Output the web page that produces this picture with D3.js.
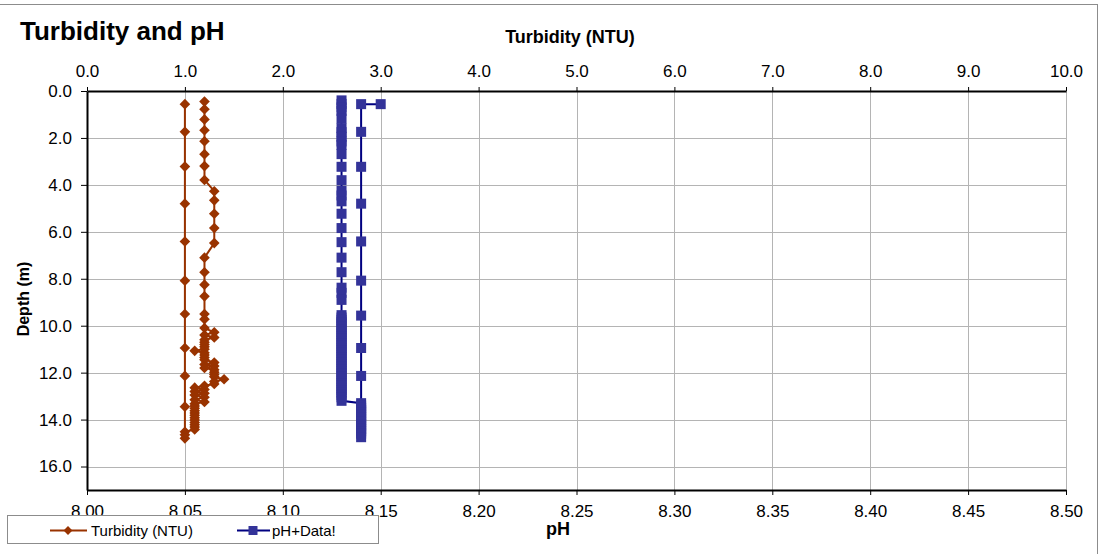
<!DOCTYPE html>
<html>
<head>
<meta charset="utf-8">
<script src="https://cdn.jsdelivr.net/npm/d3@7"></script>
<style>
  html, body { margin: 0; padding: 0; background: #fff; }
  svg { display: block; font-family: "Liberation Sans", Arial, sans-serif; }
</style>
</head>
<body>
<svg id="chart" width="1110" height="554"></svg>
<script>
// ---- Data ----
const turbTicks = [0,1,2,3,4,5,6,7,8,9,10];
const phTicks = [8.00,8.05,8.10,8.15,8.20,8.25,8.30,8.35,8.40,8.45,8.50];
const depthTicks = [0,2,4,6,8,10,12,14,16];

// Turbidity series (downcast then upcast), depth in m
const turbDepth = [0.45,0.78,1.21,1.67,2.14,2.69,3.2,3.79,4.27,4.66,5.23,5.84,6.48,7.1,7.72,8.25,8.75,9.5,9.72,10.1,
  10.28,10.4,10.5,10.6,10.7,10.8,10.9,11.0,11.07,11.15,11.25,11.35,11.45,11.57,11.65,11.72,11.8,11.88,11.98,12.08,
  12.18,12.28,12.38,12.48,12.56,12.64,12.72,12.8,12.88,12.95,13.05,13.15,13.25,13.32,13.42,13.52,13.62,13.72,13.82,13.92,
  14.02,14.12,14.22,14.32,14.42,14.52,14.65,14.8,
  13.45,12.14,10.95,9.5,8.08,6.41,4.8,3.22,1.74,0.56];
const turbValues = [1.2,1.2,1.2,1.2,1.2,1.2,1.2,1.2,1.3,1.3,1.3,1.3,1.3,1.2,1.2,1.2,1.2,1.2,1.2,1.2,
  1.3,1.2,1.3,1.2,1.2,1.2,1.2,1.2,1.1,1.2,1.2,1.2,1.2,1.3,1.2,1.3,1.2,1.3,1.3,1.3,
  1.3,1.4,1.3,1.3,1.2,1.1,1.2,1.1,1.2,1.1,1.2,1.1,1.2,1.1,1.1,1.1,1.1,1.1,1.1,1.1,
  1.1,1.1,1.1,1.1,1.1,1.0,1.0,1.0,
  1.0,1.0,1.0,1.0,1.0,1.0,1.0,1.0,1.0,1.0];

// pH series (downcast then upcast), depth in m
const phDepth = [0.4,0.55,0.7,0.85,1.17,1.58,1.75,1.95,2.15,2.3,2.69,3.23,3.8,4.25,4.45,4.7,5.23,5.84,6.44,7.1,
  7.72,8.38,8.6,8.9,9.55,9.65,9.75,9.85,9.95,10.05,10.15,10.25,10.35,10.45,10.55,10.65,10.75,10.85,10.95,11.05,
  11.15,11.25,11.35,11.45,11.55,11.65,11.75,11.85,11.95,12.05,12.15,12.25,12.35,12.45,12.55,12.65,12.75,12.85,12.95,13.05,
  13.2,
  13.3,13.4,13.5,13.6,13.7,13.8,13.9,14.0,14.1,14.2,14.3,14.4,14.5,14.6,14.75,
  12.14,10.95,9.57,8.08,6.41,4.8,3.23,1.74,0.56,0.56];
const phValues = [8.13,8.13,8.13,8.13,8.13,8.13,8.13,8.13,8.13,8.13,8.13,8.13,8.13,8.13,8.13,8.13,8.13,8.13,8.13,8.13,
  8.13,8.13,8.13,8.13,8.13,8.13,8.13,8.13,8.13,8.13,8.13,8.13,8.13,8.13,8.13,8.13,8.13,8.13,8.13,8.13,
  8.13,8.13,8.13,8.13,8.13,8.13,8.13,8.13,8.13,8.13,8.13,8.13,8.13,8.13,8.13,8.13,8.13,8.13,8.13,8.13,
  8.13,
  8.14,8.14,8.14,8.14,8.14,8.14,8.14,8.14,8.14,8.14,8.14,8.14,8.14,8.14,8.14,
  8.14,8.14,8.14,8.14,8.14,8.14,8.14,8.14,8.14,8.15];

const titleText = "Turbidity and pH";
const turbLabel = "Turbidity (NTU)";
const phLabel = "pH";
const depthLabel = "Depth (m)";
const seriesNames = ["Turbidity (NTU)", "pH+Data!"];

// ---- Layout ----
const L = 87, R = 1066, T = 91, B = 490;
const turbColor = "#993300", phLine = "#000080", phMarker = "#333399";
const gridColor = "#b4b4b4";
const font = "'Liberation Sans', Arial, sans-serif";

const svg = d3.select("#chart");

const xT = d3.scaleLinear().domain([0, 10]).range([L, R]);
const xP = d3.scaleLinear().domain([8.0, 8.5]).range([L, R]);
const y = d3.scaleLinear().domain([0, 17]).range([T, B]);

// outer frame
svg.append("rect").attr("x", -2).attr("y", 4.5).attr("width", 1099.5).attr("height", 560)
  .attr("fill", "none").attr("stroke", "#8c8c8c").attr("stroke-width", 1);

// gridlines
const grid = svg.append("g");
grid.selectAll(".vg").data(turbTicks.filter(d => d > 0)).join("line")
  .attr("x1", d => Math.round(xT(d)) + 0.5).attr("x2", d => Math.round(xT(d)) + 0.5)
  .attr("y1", T).attr("y2", B).attr("stroke", gridColor).attr("stroke-width", 1);
grid.selectAll(".hg").data(depthTicks.filter(d => d > 0)).join("line")
  .attr("x1", L).attr("x2", R)
  .attr("y1", d => Math.round(y(d)) + 0.5).attr("y2", d => Math.round(y(d)) + 0.5)
  .attr("stroke", gridColor).attr("stroke-width", 1);

// axes
function styleAxis(g) {
  g.selectAll("path.domain").attr("stroke", "#000").attr("stroke-width", 2);
  g.selectAll(".tick line").attr("stroke", "#000").attr("stroke-width", 1);
  g.selectAll(".tick text").attr("font-family", font).attr("font-size", 17).attr("fill", "#000");
}
const axTop = svg.append("g").attr("transform", `translate(0,${T})`)
  .call(d3.axisTop(xT).tickValues(turbTicks).tickFormat(d3.format(".1f")).tickSize(4).tickSizeOuter(0).tickPadding(10));
styleAxis(axTop);
const axBot = svg.append("g").attr("transform", `translate(0,${B})`)
  .call(d3.axisBottom(xP).tickValues(phTicks).tickFormat(d3.format(".2f")).tickSize(5).tickSizeOuter(0).tickPadding(10));
styleAxis(axBot);
const axLeft = svg.append("g").attr("transform", `translate(${L},0)`)
  .call(d3.axisLeft(y).tickValues(depthTicks).tickFormat(d3.format(".1f")).tickSize(6).tickSizeOuter(0).tickPadding(9));
styleAxis(axLeft);

// series
const turbData = turbDepth.map((d, i) => ({ depth: d, v: turbValues[i] }));
const phData = phDepth.map((d, i) => ({ depth: d, v: phValues[i] }));

const plot = svg.append("g");
plot.append("path").datum(turbData)
  .attr("d", d3.line().x(d => xT(d.v)).y(d => y(d.depth)))
  .attr("fill", "none").attr("stroke", turbColor).attr("stroke-width", 2);
plot.selectAll(".tm").data(turbData).join("path")
  .attr("d", d3.symbol(d3.symbolDiamond2, 72))
  .attr("transform", d => `translate(${xT(d.v)},${y(d.depth)})`)
  .attr("fill", turbColor);

plot.append("path").datum(phData)
  .attr("d", d3.line().x(d => xP(d.v)).y(d => y(d.depth)))
  .attr("fill", "none").attr("stroke", phLine).attr("stroke-width", 2);
plot.selectAll(".pm").data(phData).join("rect")
  .attr("x", d => xP(d.v) - 5).attr("y", d => y(d.depth) - 5)
  .attr("width", 10).attr("height", 10)
  .attr("fill", phMarker);

// titles
svg.append("text").attr("x", 20).attr("y", 40).text(titleText)
  .attr("font-family", font).attr("font-size", 26).attr("font-weight", "bold");
svg.append("text").attr("x", 570).attr("y", 43).attr("text-anchor", "middle").text(turbLabel)
  .attr("font-family", font).attr("font-size", 18).attr("font-weight", "bold");
svg.append("text").attr("x", 558).attr("y", 535).attr("text-anchor", "middle").text(phLabel)
  .attr("font-family", font).attr("font-size", 18).attr("font-weight", "bold");
svg.append("text").attr("transform", "translate(29,299) rotate(-90)").attr("text-anchor", "middle").text(depthLabel)
  .attr("font-family", font).attr("font-size", 16).attr("font-weight", "bold");

// legend
const lg = svg.append("g");
lg.append("rect").attr("x", 7.5).attr("y", 515.5).attr("width", 371).attr("height", 28)
  .attr("fill", "#fff").attr("stroke", "#8c8c8c").attr("stroke-width", 1);
const ly = 530.5;
lg.append("line").attr("x1", 50).attr("x2", 87).attr("y1", ly).attr("y2", ly).attr("stroke", turbColor).attr("stroke-width", 2);
lg.append("path").attr("d", d3.symbol(d3.symbolDiamond2, 50)).attr("transform", `translate(68,${ly})`).attr("fill", turbColor);
lg.append("text").attr("x", 91).attr("y", ly + 5.5).text(seriesNames[0])
  .attr("font-family", font).attr("font-size", 15);
lg.append("line").attr("x1", 237).attr("x2", 270).attr("y1", ly).attr("y2", ly).attr("stroke", phLine).attr("stroke-width", 2);
lg.append("rect").attr("x", 248.5).attr("y", ly - 4.5).attr("width", 9).attr("height", 9).attr("fill", phMarker);
lg.append("text").attr("x", 272).attr("y", ly + 5.5).text(seriesNames[1])
  .attr("font-family", font).attr("font-size", 15);
</script>
</body>
</html>
